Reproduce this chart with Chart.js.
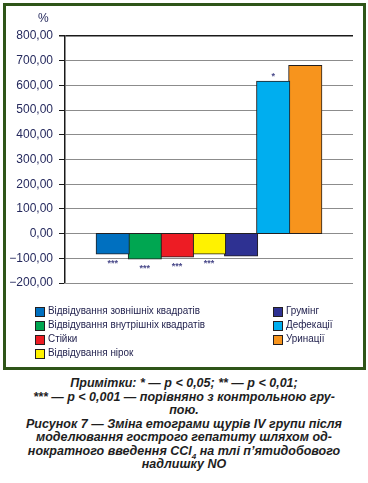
<!DOCTYPE html>
<html>
<head>
<meta charset="utf-8">
<script src="https://cdn.jsdelivr.net/npm/chart.js@4"></script>
<style>
  body { margin: 0; background: #fff; width: 368px; height: 483px; position: relative; overflow: hidden; font-family: "Liberation Sans", Arial, sans-serif; }
  #frame { position: absolute; left: 3px; top: 3px; width: 357px; height: 361px; border: 3px solid #2f5518; }
  #chartBox { position: absolute; left: 0; top: 0; width: 368px; height: 300px; }
  #unit { position: absolute; left: 38px; top: 11px; font-size: 12px; color: #262a5e; }
  .legend-item { position: absolute; font-size: 11.5px; color: #23234f; white-space: nowrap; }
  .legend-item span.box { position: absolute; left: 0; top: 3px; width: 8px; height: 8px; border: 1px solid #231f20; }
  .legend-item span.txt { position: absolute; left: 13px; top: 0; display: block; transform: scaleX(0.86); transform-origin: left top; }
  #caption { position: absolute; left: 0; top: 377px; width: 368px; text-align: center; font-weight: bold; font-style: italic; font-size: 12.5px; line-height: 13.5px; color: #1e1e1e; white-space: pre; }
  #caption sub { font-size: 8px; line-height: 0; }
</style>
</head>
<body>
<div id="frame"></div>
<div id="chartBox"><canvas id="barChart" width="368" height="300"></canvas></div>
<div id="unit">%</div>
<div id="legend"></div>
<div id="caption">Примітки: * — p &lt; 0,05; ** — p &lt; 0,01;
*** — p &lt; 0,001 — порівняно з контрольною гру-
пою.
Рисунок 7 — Зміна етограми щурів IV групи після
моделювання гострого гепатиту шляхом од-
нократного введення CCl<sub>4</sub> на тлі п’ятидобового
надлишку NO</div>
<script>
// chart data
var seriesLabels = [
    'Відвідування зовнішніх квадратів',
    'Відвідування внутрішніх квадратів',
    'Стійки',
    'Відвідування нірок',
    'Грумінг',
    'Дефекації',
    'Уринації'
];
var seriesValues = [-81, -101, -93, -81, -89, 615, 679];
var significance = ['***', '***', '***', '***', '', '*', ''];
var seriesColors = ['#0070c0', '#00a651', '#ed1c24', '#fff200', '#2e3192', '#00aeef', '#f7941d'];
var yTicks = [800, 700, 600, 500, 400, 300, 200, 100, 0, -100, -200];

// stars under / over bars
var starsPlugin = {
    id: 'stars',
    afterDatasetsDraw: function (chart) {
        var ctx = chart.ctx;
        ctx.save();
        ctx.font = 'bold 9px "Liberation Sans", Arial, sans-serif';
        ctx.fillStyle = '#4a4a8a';
        ctx.textAlign = 'center';
        chart.data.datasets.forEach(function (ds, i) {
            var mark = significance[i];
            if (!mark) return;
            var bar = chart.getDatasetMeta(i).data[0];
            if (ds.data[0] < 0) {
                ctx.textBaseline = 'top';
                ctx.fillText(mark, bar.x, bar.y + 5);
            } else {
                ctx.textBaseline = 'bottom';
                ctx.fillText(mark, bar.x, bar.y - 1);
            }
        });
        ctx.restore();
    }
};

var datasets = seriesLabels.map(function (label, i) {
    return {
        label: label,
        data: [seriesValues[i]],
        backgroundColor: seriesColors[i],
        borderColor: '#231f20',
        borderWidth: 1,
        borderSkipped: false,
        inflateAmount: 1,
        categoryPercentage: 0.78,
        barPercentage: 1
    };
});

new Chart(document.getElementById('barChart').getContext('2d'), {
    type: 'bar',
    data: { labels: [''], datasets: datasets },
    options: {
        responsive: false,
        animation: false,
        layout: { padding: { top: 36, right: 15, bottom: 17, left: 0 } },
        plugins: { legend: { display: false }, tooltip: { enabled: false } },
        scales: {
            x: { display: false },
            y: {
                min: -200,
                max: 800,
                afterFit: function (scale) { scale.width = 65; },
                afterBuildTicks: function (scale) {
                    scale.ticks = yTicks.map(function (v) { return { value: v }; });
                },
                border: { display: true, color: '#1a1a1a', width: 1.5 },
                grid: {
                    color: function (c) { return c.tick && c.tick.value === 800 ? '#1a1a1a' : '#8c8c8c'; },
                    lineWidth: function (c) { return c.tick && c.tick.value === 800 ? 1.5 : 1; },
                    tickColor: '#1a1a1a',
                    tickLength: 6
                },
                ticks: {
                    padding: 6,
                    color: '#262a5e',
                    font: { family: '"Liberation Sans", Arial, sans-serif', size: 12 },
                    callback: function (v) {
                        var s = Math.abs(v).toFixed(2).replace('.', ',');
                        return (v < 0 ? '−' : '') + s;
                    }
                }
            }
        }
    },
    plugins: [starsPlugin]
});

// legend in two columns, filled column by column
var legendPos = [
    [35, 304], [35, 318], [35, 332], [35, 346],
    [273, 304], [273, 318], [273, 332]
];
var legend = document.getElementById('legend');
seriesLabels.forEach(function (label, i) {
    var item = document.createElement('div');
    item.className = 'legend-item';
    item.style.left = legendPos[i][0] + 'px';
    item.style.top = legendPos[i][1] + 'px';
    item.innerHTML = '<span class="box" style="background:' + seriesColors[i] + '"></span>' +
        '<span class="txt">' + label + '</span>';
    legend.appendChild(item);
});
</script>
</body>
</html>
